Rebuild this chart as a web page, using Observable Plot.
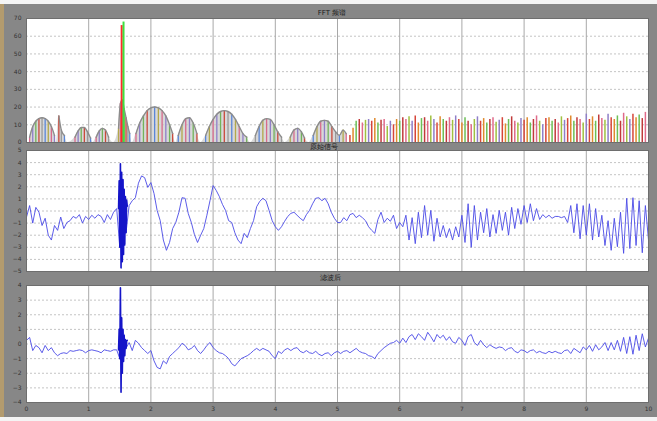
<!DOCTYPE html>
<html><head><meta charset="utf-8">
<script src="https://cdn.jsdelivr.net/npm/d3@7"></script>
<script src="https://cdn.jsdelivr.net/npm/@observablehq/plot@0.6"></script>
<style>
body{margin:0;background:#fff;}
#fig{position:relative;width:657px;height:421px;background:#f4f4f4;overflow:hidden;font-family:"DejaVu Sans",sans-serif;}
#bg{position:absolute;left:0;top:4px;width:657px;height:413px;background:#878787;border-left:4px solid #b39b6e;box-sizing:border-box;}
.p{position:absolute;left:0;}
.p svg{overflow:visible;}
.t{position:absolute;font-size:7px;color:#1a1a1a;transform:translateX(-50%);white-space:nowrap;}
</style></head><body>
<div id="fig">
  <div id="bg"></div>
  <div class="p" id="p1" style="top:4px"></div>
  <div class="p" id="p2" style="top:147px"></div>
  <div class="p" id="p3" style="top:279px"></div>
  <div class="t" id="t1" style="left:332px;top:8px"></div>
  <div class="t" id="t2" style="left:324px;top:142px"></div>
  <div class="t" id="t3" style="left:330px;top:273px"></div>
</div>
<script>
// ---- titles ----
const titles = ["FFT 频谱", "原始信号", "滤波后"];

// ---- axes ----
const xTicks = [0, 1, 2, 3, 4, 5, 6, 7, 8, 9, 10];
const specTicks = [0, 10, 20, 30, 40, 50, 60, 70];
const sig1Ticks = [-5, -4, -3, -2, -1, 0, 1, 2, 3, 4, 5];
const sig2Ticks = [-4, -3, -2, -1, 0, 1, 2, 3, 4];

// ---- spectrum (panel 1): lobes, NaN separates lobes ----
const lobeX = [0.05,0.10,0.15,0.20,0.25,0.30,0.35,0.40,0.45,0.48,
  0.52,0.56,0.61,0.66,
  0.78,0.83,0.88,0.93,0.98,1.03,1.07,
  1.12,1.17,1.22,1.27,1.32,1.40,
  1.48,1.51,1.54,1.57,1.60,1.63,1.66,1.70,
  1.76,1.82,1.88,1.94,2.00,2.06,2.12,2.18,2.24,2.30,2.35,2.40,
  2.44,2.50,2.56,2.62,2.68,2.74,2.80,
  2.88,2.94,3.00,3.06,3.12,3.18,3.24,3.30,3.36,3.42,3.48,3.54,3.60,
  3.68,3.74,3.80,3.86,3.92,3.98,4.04,4.10,4.16,
  4.24,4.30,4.36,4.42,4.47,4.54,
  4.61,4.67,4.73,4.79,4.85,4.91,4.97,5.03,5.09,5.14];
const lobeH = [3,9,12,13.5,14,13.5,12,9,4,NaN,
  15,7,4,NaN,
  3,6.5,8.5,8.5,6,2.5,NaN,
  3,6.5,8,7,3,NaN,
  8,22,24,19,14,9,5,NaN,
  5,11,15,18,19.5,20,19.5,18,15,10,5,NaN,
  4,10,13.5,14,11,5,NaN,
  4,9,13,16,17.5,18,17.5,16,13,9,5,3,NaN,
  4,9,12.5,13.5,13,10,6,3,NaN,
  3,7,8,6,2.5,NaN,
  4,9,12,12.5,12,9,6,4,7,5];
// dense bins from 5.2 upward, spacing 0.05
const denseStart = 5.2, denseStep = 0.05;
const denseH = [4,8,12,13,11,12.5,13,12,13.5,11,12.5,13,9,12,10,13,
  12,14,13,14.5,12,15,11,13.5,14,12,15,13,11,14.5,13,12,14,12.5,15,13,
  11,14,12,10,13,14.5,12,13.5,11,13,14,11.5,12.5,14,10.5,13,14.5,12,11,13.5,
  12.5,14,11,13,15,12,10,13.5,14,12,13,11,14.5,12.5,13.5,15,12,14,13,11,
  16,13,14.5,12,15.5,13.5,12.5,16,14,13,15,12,16.5,14.5,13,16,14,15.5,13.5,17];
// main peak (two overlapping traces)
const peakX = [1.53, 1.56];
const peakH = [66, 68];

// ---- time signals (panels 2 and 3), sample step dt ----
const dt = 0.05;
const sig1 = [-0.5,0.45,-1.0,0.3,-0.1,-1.2,-0.6,-2.0,-2.4,-1.2,
  -1.6,-0.5,-1.45,-0.95,-0.8,-0.45,-0.6,-0.3,-1.0,-0.45,
  -0.7,-0.35,-0.6,-0.3,-0.45,-0.95,-0.3,-0.7,-0.1,0.2,
  -3.0,2.6,-1.8,0.45,0.85,1.1,2.3,2.9,2.75,1.95,
  2.35,1.45,0.05,-0.8,-2.4,-3.25,-2.6,-1.45,-0.95,-0.1,
  1.1,1.05,-0.2,-0.95,-1.95,-2.6,-2.0,-1.45,-0.35,0.85,
  2.1,1.7,1.2,0.55,0.05,-0.8,-0.95,-1.8,-2.4,-2.7,
  -1.85,-2.2,-1.45,-0.8,0.35,0.8,1.05,0.85,0.05,-0.8,
  -1.3,-1.6,-1.3,-0.85,-0.45,-0.2,-0.1,-0.35,-0.6,-0.8,
  -0.3,0.05,0.6,1.05,1.1,0.85,1.05,0.6,-0.1,-0.6,
  -0.95,-0.95,-0.55,-0.8,-0.3,-0.2,-0.55,-0.35,-0.55,-0.8,
  -1.3,-1.6,-1.85,-0.7,-0.1,-0.95,-0.6,-0.85,-0.35,-1.45,
  -0.95,-1.3,-0.35,-2.4,-0.55,-2.7,-0.1,-2.2,0.45,-2.0,
  0.05,-2.5,-0.6,-2.15,-1.2,-2.2,-1.45,-2.4,-1.3,-2.15,
  -0.35,-2.6,0.6,-3.0,0.45,-2.4,-0.1,-1.8,0.2,-2.15,
  -0.3,-1.85,0.05,-1.6,-0.1,-2.0,0.3,-1.45,0.2,-1.1,
  0.45,-0.95,0.6,-0.8,0.2,-0.7,-0.3,-0.55,-0.35,-0.6,
  -0.45,-0.45,-0.55,-0.45,-0.95,0.45,-1.8,0.6,-2.3,0.45,
  -2.0,0.6,-2.4,0.2,-2.15,-0.35,-2.85,-0.8,-3.25,-0.6,
  -2.95,-0.1,-3.5,1.05,-3.1,1.1,-2.85,0.85,-3.45,0.45,
  -2.4];
const sig2 = [0.25,0.45,-0.45,-0.1,-0.25,-0.6,-0.1,-0.45,-0.25,-0.6,
  -0.8,-0.65,-0.6,-0.65,-0.45,-0.5,-0.45,-0.4,-0.45,-0.6,
  -0.45,-0.4,-0.45,-0.5,-0.6,-0.4,-0.45,-0.5,-0.4,-0.4,
  -1.0,1.0,-0.3,0.1,-0.45,0.25,0.05,-0.25,-0.45,-0.65,
  -0.45,-1.15,-1.6,-1.7,-1.15,-1.35,-0.85,-0.65,-0.45,-0.25,
  0.05,-0.1,-0.4,-0.3,-0.1,-0.45,-0.65,-0.4,-0.1,0.1,
  -0.25,-0.45,-0.6,-0.65,-0.8,-1.0,-1.35,-1.5,-1.25,-1.0,
  -0.9,-0.8,-0.65,-0.45,-0.3,-0.45,-0.3,-0.4,-0.5,-0.8,
  -1.0,-0.5,-0.65,-0.4,-0.3,-0.45,-0.3,-0.25,-0.5,-0.6,
  -0.45,-0.6,-0.65,-0.5,-0.7,-0.8,-0.65,-0.6,-0.8,-0.6,
  -0.5,-0.65,-0.5,-0.45,-0.6,-0.45,-0.3,-0.5,-0.6,-0.65,
  -0.8,-0.85,-1.0,-0.65,-0.45,-0.25,-0.1,0.05,0.1,0.25,
  0.05,0.4,0.1,0.5,0.65,0.3,0.7,0.5,0.25,0.8,
  0.5,0.15,0.65,0.4,0.6,0.25,0.5,0.15,0.05,0.45,
  0.25,-0.1,0.5,0.65,0.1,-0.1,0.25,-0.05,-0.25,-0.05,
  -0.2,-0.3,-0.2,-0.25,-0.45,-0.3,-0.25,-0.5,-0.6,-0.4,
  -0.45,-0.6,-0.45,-0.4,-0.6,-0.5,-0.6,-0.65,-0.5,-0.6,
  -0.5,-0.6,-0.65,-0.45,-0.4,-0.65,-0.3,-0.45,-0.6,-0.2,
  -0.4,-0.1,-0.5,-0.05,-0.4,-0.2,0.1,-0.45,0.1,-0.4,
  0.25,-0.5,0.45,-0.65,0.5,-0.7,0.6,-0.45,0.7,-0.2,
  0.4];
// finely sampled transient around t = 1.5
const burstT = [1.48,1.49,1.50,1.51,1.52,1.53,1.54,1.55,1.56,1.57,1.58,1.59,1.60,1.61,1.62];
const burst1 = [0.2,2.5,-3.0,3.9,-4.7,3.2,-4.2,2.6,-3.6,1.8,-2.8,1.2,-1.8,0.9,0.4];
const burst2 = [-0.4,1.0,-1.0,3.85,-3.3,1.8,-2.0,1.0,-1.2,0.6,-0.8,0.3,-0.3,0.2,0.25];

// ---- build tables ----
const lobes = lobeX.map((x, i) => ({x, h: lobeH[i], i}));
const dense = denseH.map((h, i) => ({x: denseStart + i * denseStep, h, i}));
const peaks = peakX.map((x, i) => ({x, h: peakH[i], i}));
const s1 = sig1.map((v, i) => ({t: i * dt, v}));
const s2 = sig2.map((v, i) => ({t: i * dt, v}));
const b1 = burstT.map((t, i) => ({t, v: burst1[i]}));
const b2 = burstT.map((t, i) => ({t, v: burst2[i]}));

const lobeColors = ["#d86a8c", "#8f7fc8", "#72b35a", "#c9483a", "#9a9a9a", "#5a86d8", "#b3a84a"];
const denseColors = ["#d6453a", "#e08a2e", "#6cbf55", "#c03a3a", "#e06a8a", "#a0c040", "#8f7fc8"];
const peakColors = ["#ff2a2a", "#3ee03e"];

const common = (mt, mb, height, yDomain, yTicks, showX) => ({
  width: 657, height, marginLeft: 26, marginRight: 9, marginTop: mt, marginBottom: mb,
  style: {background: "transparent", fontFamily: "DejaVu Sans, sans-serif", fontSize: "6px", color: "#333", overflow: "visible"},
  x: {domain: [0, 10], axis: null, label: null},
  y: {domain: yDomain, axis: null, label: null},
  base: [
    Plot.frame({fill: "white", stroke: null}),
    Plot.gridY(yTicks, {stroke: "#c4c4c4", strokeOpacity: 1, strokeDasharray: "2,2"}),
    Plot.gridX(xTicks, {stroke: "#a8a8a8", strokeOpacity: 1})
  ],
  axes: [
    Plot.frame({stroke: "#6e6e6e"}),
    Plot.axisY(yTicks, {tickSize: 0, tickPadding: 5, fill: "#333", label: null}),
    ...(showX ? [Plot.axisX(xTicks, {tickSize: 0, tickPadding: 4, fill: "#333", label: null})] : [])
  ]
});

function make(cfg, marks) {
  const {base, axes, ...opts} = cfg;
  return Plot.plot({...opts, marks: [...base, ...marks, ...axes]});
}

// Panel 1: spectrum
const c1 = common(14, 7, 145, [0, 70], specTicks, false);
const lobeOutline = lobes.filter(d => d.x < 5.2);
document.getElementById("p1").append(make(c1, [
  Plot.areaY(lobeOutline, {x: "x", y: "h", fill: "#c8c8c8", fillOpacity: 0.7, curve: "monotone-x"}),
  Plot.ruleX(lobes.filter(d => !isNaN(d.h)), {x: "x", y1: 0, y2: "h", stroke: d => lobeColors[d.i % lobeColors.length], strokeWidth: 1.3}),
  Plot.line(lobeOutline, {x: "x", y: "h", stroke: "#8c8c8c", strokeWidth: 1.4, curve: "monotone-x"}),
  Plot.ruleX(dense, {x: "x", y1: 0, y2: "h", stroke: d => denseColors[d.i % denseColors.length], strokeWidth: 1.5}),
  Plot.ruleX(peaks, {x: "x", y1: 0, y2: "h", stroke: d => peakColors[d.i], strokeWidth: 2})
]));

// Panel 2: raw signal
const c2 = common(3, 8, 132, [-5, 5], sig1Ticks, false);
document.getElementById("p2").append(make(c2, [
  Plot.line(s1, {x: "t", y: "v", stroke: "#4a4ae6", strokeWidth: 0.9}),
  Plot.line(b1, {x: "t", y: "v", stroke: "#1414c8", strokeWidth: 1.6})
]));

// Panel 3: filtered signal
const c3 = common(6, 15, 138, [-4, 4], sig2Ticks, true);
document.getElementById("p3").append(make(c3, [
  Plot.line(s2, {x: "t", y: "v", stroke: "#4a4ae6", strokeWidth: 0.9}),
  Plot.line(b2, {x: "t", y: "v", stroke: "#1414c8", strokeWidth: 1.6})
]));

document.getElementById("t1").textContent = titles[0];
document.getElementById("t2").textContent = titles[1];
document.getElementById("t3").textContent = titles[2];
</script>
</body></html>
